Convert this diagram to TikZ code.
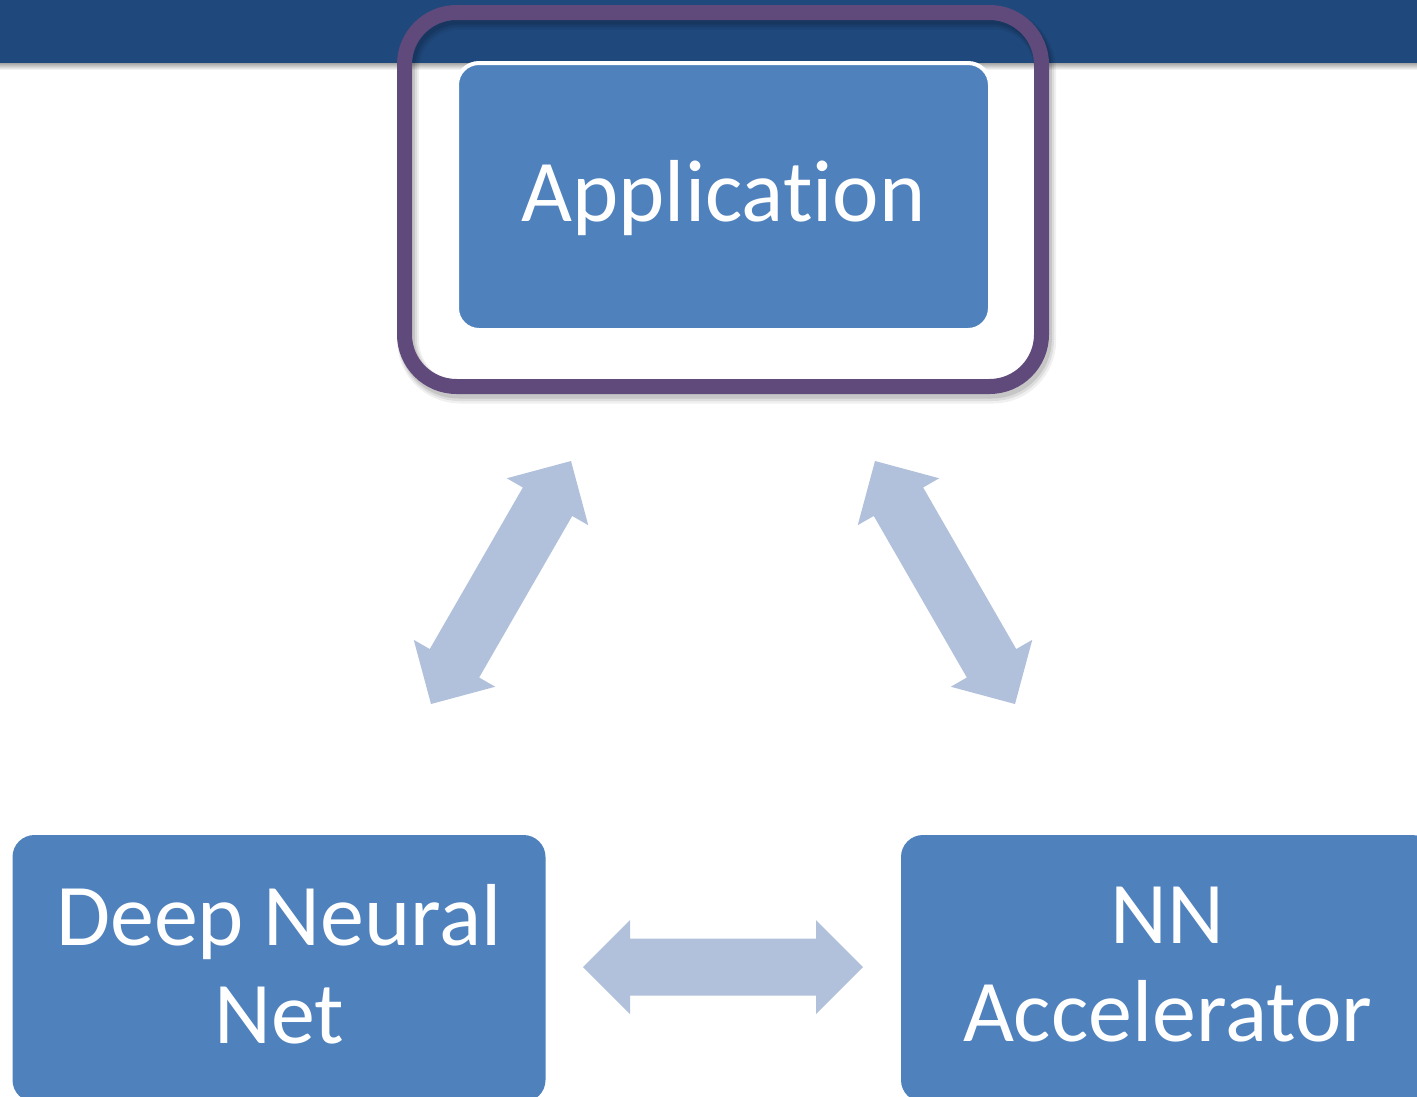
\documentclass[tikz,border=0pt]{standalone}
\usepackage{fontspec}
\setmainfont{Carlito}[Ligatures=NoCommon]
\usetikzlibrary{calc}
\definecolor{bannerc}{HTML}{1F497D}
\definecolor{framec}{HTML}{604A7B}
\definecolor{boxblue}{HTML}{4F81BD}
\definecolor{arrowc}{HTML}{B2C1DB}
\tikzset{
  bluebox/.style={fill=boxblue, rounded corners=22pt, minimum width=533pt,
    minimum height=267pt, inner sep=0pt},
  boxtext/.style={text=white, font=\fontsize{88}{98}\selectfont, align=center, inner sep=0pt},
  framebox/.style={draw=framec, line width=15pt, rounded corners=52pt,
    minimum width=637pt, minimum height=374pt, inner sep=0pt},
}
\newcommand{\dblarr}[2]{%
  \fill[arrowc] (#1)
    -- ($(#1)!47pt!(#2)!47pt!90:(#2)$)
    -- ($(#1)!47pt!(#2)!28.5pt!90:(#2)$)
    -- ($(#2)!47pt!(#1)!28.5pt!-90:(#1)$)
    -- ($(#2)!47pt!(#1)!47pt!-90:(#1)$)
    -- (#2)
    -- ($(#2)!47pt!(#1)!47pt!90:(#1)$)
    -- ($(#2)!47pt!(#1)!28.5pt!90:(#1)$)
    -- ($(#1)!47pt!(#2)!28.5pt!-90:(#2)$)
    -- ($(#1)!47pt!(#2)!47pt!-90:(#2)$)
    -- cycle;}
\begin{document}
\begin{tikzpicture}[x=1pt,y=-1pt]
\useasboundingbox (0,0) rectangle (1417,1096);
\clip (0,0) rectangle (1417,1096);
\fill[white] (0,0) rectangle (1417,1096);
% banner with soft shadow
\shade[top color=black!40, bottom color=white] (0,62) rectangle (1417,70);
\fill[bannerc] (0,0) rectangle (1417,63);
% frame shadow
\foreach \o/\w/\op in {6/22/0.06, 5/19/0.08, 4/16/0.10}{
  \draw[black, opacity=\op, line width=\w pt, rounded corners=52pt]
    (404.5+\o*0.6,12.5+\o) rectangle (1041.5+\o*0.6,386.5+\o);
}
% frame around application
\node[framebox] (frm) at (723,199.5) {};
% boxes
\node[bluebox, draw=white, line width=4pt] (app) at (723.5,196.5) {};
\node[boxtext] (apptext) at (723.5,198) {Application};
\node[bluebox] (dnn) at (279,968.5) {};
\node[boxtext] (dnntext) at (279,964.5) {Deep Neural\\Net};
\node[bluebox] (nna) at (1167.5,968.5) {};
\node[boxtext] (nnatext) at (1167.5,964.5) {NN\\Accelerator};
% double arrows
\coordinate (l1) at (431,704);
\coordinate (l2) at (571,461);
\coordinate (r1) at (875,461);
\coordinate (r2) at (1015,704);
\coordinate (h1) at (583,967);
\coordinate (h2) at (863,967);
\dblarr{l1}{l2}
\dblarr{r1}{r2}
\dblarr{h1}{h2}
\end{tikzpicture}
\end{document}
